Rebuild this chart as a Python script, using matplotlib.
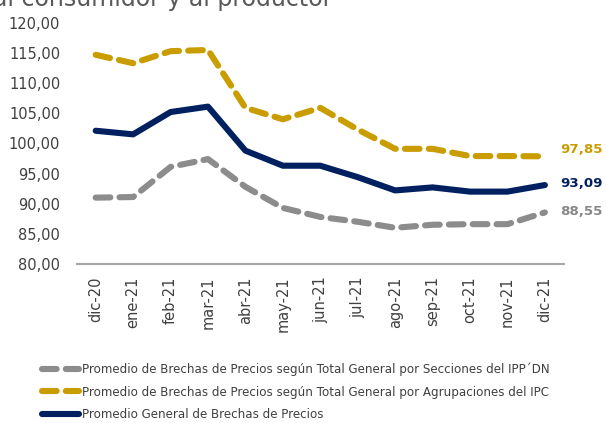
import matplotlib.pyplot as plt

# meses del eje x
meses = ['dic-20', 'ene-21', 'feb-21', 'mar-21', 'abr-21', 'may-21', 'jun-21',
         'jul-21', 'ago-21', 'sep-21', 'oct-21', 'nov-21', 'dic-21']

# series
ipp_dn = [91.0, 91.1, 96.1, 97.4, 92.8, 89.3, 87.8, 87.0, 86.0, 86.5, 86.6, 86.6, 88.55]
ipc = [114.7, 113.3, 115.3, 115.5, 105.9, 104.0, 105.9, 102.3, 99.1, 99.1, 97.9, 97.9, 97.85]
general = [102.1, 101.5, 105.2, 106.1, 98.8, 96.3, 96.3, 94.4, 92.2, 92.7, 92.0, 92.0, 93.09]

nombres = ['Promedio de Brechas de Precios según Total General por Secciones del IPP´DN',
           'Promedio de Brechas de Precios según Total General por Agrupaciones del IPC',
           'Promedio General de Brechas de Precios']

gris = '#8c8c8c'
oro = '#c99d00'
azul = '#002060'

plt.rcParams['font.family'] = ['DejaVu Sans']

fig = plt.figure(figsize=(6.06, 4.23), dpi=100)
ax = fig.add_axes([0.127, 0.376, 0.803, 0.570])

x = range(len(meses))
lw = 4.4
l1, = ax.plot(x, ipp_dn, color=gris, lw=lw, dashes=(2.4, 1.5), dash_capstyle='round',
              solid_capstyle='round', label=nombres[0])
l2, = ax.plot(x, ipc, color=oro, lw=lw, dashes=(2.4, 1.5), dash_capstyle='round',
              solid_capstyle='round', label=nombres[1])
l3, = ax.plot(x, general, color=azul, lw=lw, solid_capstyle='round', label=nombres[2])

# etiquetas del ultimo valor
for serie, col, dy in [(ipc, oro, 5), (general, azul, 1), (ipp_dn, '#888888', 1)]:
    ax.annotate(f'{serie[-1]:.2f}'.replace('.', ','), (x[-1], serie[-1]),
                xytext=(11, dy), textcoords='offset points', va='center',
                fontsize=9.6, fontweight='bold', color=col)

ax.set_xlim(-0.5, len(meses) - 0.5)
ax.set_ylim(80, 120)
ax.set_yticks(range(80, 121, 5))
ax.set_yticklabels([f'{v},00' for v in range(80, 121, 5)], fontsize=10.5, color='#404040')
ax.set_xticks(list(x))
ax.set_xticklabels(meses, rotation=90, fontsize=10.5, color='#404040')
ax.tick_params(length=0, pad=9)
ax.tick_params(axis='y', pad=12)

for s in ['top', 'right', 'left']:
    ax.spines[s].set_visible(False)
ax.spines['bottom'].set_color('#a6a6a6')
ax.spines['bottom'].set_linewidth(1.5)

fig.legend(handles=[l1, l2, l3], loc='upper left', bbox_to_anchor=(0.062, 0.155),
           frameon=False, fontsize=8.6, handlelength=3.1, handletextpad=0.25,
           labelspacing=0.82, labelcolor='#404040', borderaxespad=0)

fig.text(-0.012, 0.986, 'al consumidor y al productor', fontsize=17, color='#595959',
         va='baseline', ha='left')

fig.savefig('out.png', dpi=100)
